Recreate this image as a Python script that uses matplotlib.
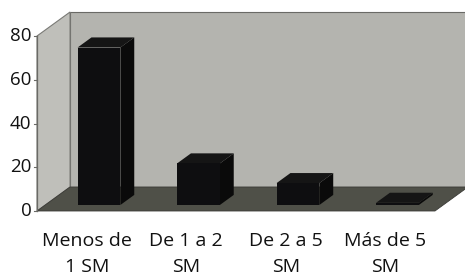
import matplotlib.pyplot as plt
from matplotlib.patches import Polygon

# datos
categorias = ["Menos de\n1 SM", "De 1 a 2\nSM", "De 2 a 5\nSM", "Más de 5\nSM"]
valores = [72, 19, 10, 1]
ticks_y = [0, 20, 40, 60, 80]

# geometria 3D (oblicua)
DX = 0.332   # desplazamiento en x por profundidad (unidades de categoria)
DV = 10.97   # desplazamiento en y por profundidad (unidades de valor)
VMAX = 80
N = len(categorias)
d0, d1 = 0.25, 0.67   # profundidad frontal / trasera de las barras
ancho = 0.43


def p(x, v, d):
    return (x + d * DX, v + d * DV)


plt.rcParams['font.family'] = ['Open Sans', 'DejaVu Sans']

fig = plt.figure(figsize=(4.65, 2.75), dpi=100)
ax = fig.add_axes([0, 0, 1, 1])
ax.set_xlim(-0.372, 4.302)
ax.set_ylim(-29.26, 96.46)
ax.axis("off")

# pared del fondo
fondo = [p(0, 0, 1), p(0, VMAX, 1), p(N, VMAX, 1), p(N, 0, 1)]
ax.add_patch(Polygon(fondo, closed=True, fc="#b4b4af", ec="#6a6a66", lw=0.8))
# pared izquierda
izq = [p(0, 0, 0), p(0, VMAX, 0), p(0, VMAX, 1), p(0, 0, 1)]
ax.add_patch(Polygon(izq, closed=True, fc="#bfbfba", ec="#7a7a76", lw=0.8))
# piso
piso = [p(0, 0, 0), p(N, 0, 0), p(N, 0, 1), p(0, 0, 1)]
ax.add_patch(Polygon(piso, closed=True, fc="#4f5048", ec="#3a3a36", lw=0.6))

# barras
for i, v in enumerate(valores):
    x0 = i + 0.5 - ancho / 2 + 0.04
    x1 = x0 + ancho
    frente = [p(x0, 0, d0), p(x0, v, d0), p(x1, v, d0), p(x1, 0, d0)]
    lado = [p(x1, 0, d0), p(x1, v, d0), p(x1, v, d1), p(x1, 0, d1)]
    tapa = [p(x0, v, d0), p(x0, v, d1), p(x1, v, d1), p(x1, v, d0)]
    ax.add_patch(Polygon(lado, closed=True, fc="#0a0a0a", ec="none"))
    ax.add_patch(Polygon(tapa, closed=True, fc="#151515", ec="none"))
    ax.add_patch(Polygon(frente, closed=True, fc="#0e0e10", ec="none"))

# eje y
ax.plot([0, 0], [0, VMAX], color="#6a6a66", lw=0.9)
for t in ticks_y:
    ax.plot([-0.03, 0], [t, t], color="#6a6a66", lw=0.8)
    ax.text(-0.055, t, str(t), ha="right", va="center", fontsize=13.5, color="#111111")

# etiquetas de categorias
for i, c in enumerate(categorias):
    ax.text(i + 0.5, -9.8, c, ha="center", va="top", fontsize=14,
            color="#111111", linespacing=1.55)

fig.savefig("out.png", dpi=100)
